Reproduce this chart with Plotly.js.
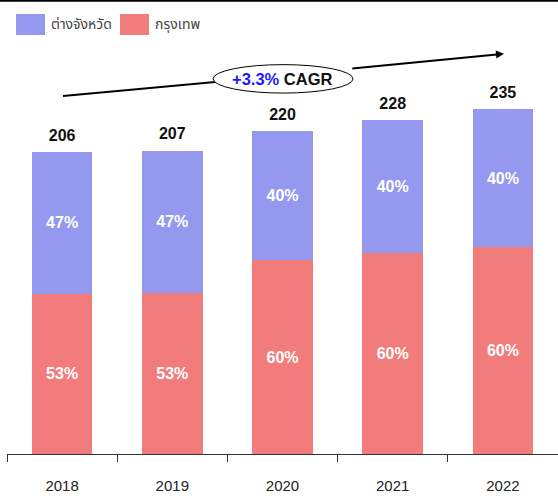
<!DOCTYPE html>
<html>
<head>
<meta charset="utf-8">
<script src="https://cdn.plot.ly/plotly-3.0.1.min.js"></script>
<style>
html,body{margin:0;padding:0;background:#fff;}
#chart{width:558px;height:496px;}
</style>
</head>
<body>
<div id="chart"></div>
<script>
// ---- data ----
const years = ['2018', '2019', '2020', '2021', '2022'];
const totals = [206, 207, 220, 228, 235];
const bangkok = [109.2, 109.7, 132, 136.8, 141];      // กรุงเทพ
const provinces = [96.8, 97.3, 88, 91.2, 94];         // ต่างจังหวัด
const bangkokPct = ['53%', '53%', '60%', '60%', '60%'];
const provincesPct = ['47%', '47%', '40%', '40%', '40%'];
const seriesNames = ['ต่างจังหวัด', 'กรุงเทพ'];
const cagrValue = '+3.3%';

const BLUE = '#9498EF';
const RED = '#F27B7C';
const FONT = 'Liberation Sans, Arial, sans-serif';
const THAI = 'Noto Sans Thai, Noto Sans, Loma, Garuda, DejaVu Sans, sans-serif';

const segText = {color: '#ffffff', size: 16, family: FONT, weight: 'bold'};

const traces = [
  {
    type: 'bar', x: years, y: bangkok, name: seriesNames[1],
    marker: {color: RED},
    text: bangkokPct, textposition: 'inside', insidetextanchor: 'middle',
    textfont: segText, cliponaxis: false
  },
  {
    type: 'bar', x: years, y: provinces, name: seriesNames[0],
    marker: {color: BLUE},
    text: provincesPct, textposition: 'inside', insidetextanchor: 'middle',
    textfont: segText, cliponaxis: false
  },
  {
    type: 'scatter', mode: 'markers+text', x: years, y: totals,
    marker: {size: 10, opacity: 0},
    text: totals.map(v => '<b>' + v + '</b>'),
    textposition: 'top center',
    textfont: {family: FONT, size: 16, color: '#111'},
    cliponaxis: false, showlegend: false
  }
];

const annotations = [];

// legend (custom, larger swatches)
annotations.push(
  {xref: 'paper', yref: 'paper', x: (49 - 7) / 551, y: 1.0386, showarrow: false,
   xanchor: 'left', yanchor: 'middle', text: seriesNames[0],
   font: {family: THAI, size: 14, color: '#444'}},
  {xref: 'paper', yref: 'paper', x: (153 - 7) / 551, y: 1.0386, showarrow: false,
   xanchor: 'left', yanchor: 'middle', text: seriesNames[1],
   font: {family: THAI, size: 14, color: '#444'}}
);

// CAGR arrow head segment (from ellipse edge to tip)
annotations.push({
  x: 4.01, y: 273, ax: 2.62, ay: 262.8, xref: 'x', yref: 'y', axref: 'x', ayref: 'y',
  showarrow: true, arrowhead: 2, arrowsize: 0.8, arrowwidth: 2, arrowcolor: '#000', text: ''
});
annotations.push({
  x: 2.0, y: 255.8, xref: 'x', yref: 'y', showarrow: false,
  text: '<b><span style="color:#1a1aff">' + cagrValue + '</span> CAGR</b>',
  font: {family: FONT, size: 16.5, color: '#111'}
});

const shapes = [
  // top border line
  {type: 'line', xref: 'paper', yref: 'paper', x0: -0.02, x1: 1.02, y0: 1.095, y1: 1.095,
   line: {color: '#000', width: 2}},
  // legend swatches
  {type: 'rect', xref: 'paper', yref: 'paper',
   x0: (16 - 7) / 551, x1: (45 - 7) / 551, y0: 1.0628, y1: 1.0121,
   fillcolor: BLUE, line: {width: 0}},
  {type: 'rect', xref: 'paper', yref: 'paper',
   x0: (120 - 7) / 551, x1: (149 - 7) / 551, y0: 1.0628, y1: 1.0121,
   fillcolor: RED, line: {width: 0}},
  // CAGR line
  {type: 'line', xref: 'x', yref: 'y', x0: 0.008, y0: 244.2, x1: 2.0, y1: 258,
   line: {color: '#000', width: 2}},
  // ellipse
  {type: 'circle', xref: 'x', yref: 'y', x0: 1.37, x1: 2.64, y0: 246.2, y1: 265.6,
   fillcolor: '#fff', line: {color: '#000', width: 1}}
];

const layout = {
  width: 558, height: 496,
  margin: {l: 7, r: 0, t: 40, b: 42},
  barmode: 'stack', bargap: 0.45,
  showlegend: false,
  paper_bgcolor: '#fff', plot_bgcolor: '#fff',
  font: {family: FONT},
  xaxis: {
    type: 'category', range: [-0.5, 4.5],
    showline: true, linecolor: '#333', linewidth: 1,
    ticks: 'outside', tickson: 'boundaries', ticklen: 7, tickcolor: '#333', tickwidth: 1,
    tickfont: {family: FONT, size: 15, color: '#222'},
    ticklabelstandoff: 18,
    showgrid: false, zeroline: false
  },
  yaxis: {
    range: [0, 282.4], visible: false, showgrid: false, zeroline: false
  },
  annotations: annotations,
  shapes: shapes,
  hovermode: false
};

Plotly.newPlot('chart', traces, layout, {displayModeBar: false, staticPlot: true});
</script>
</body>
</html>
